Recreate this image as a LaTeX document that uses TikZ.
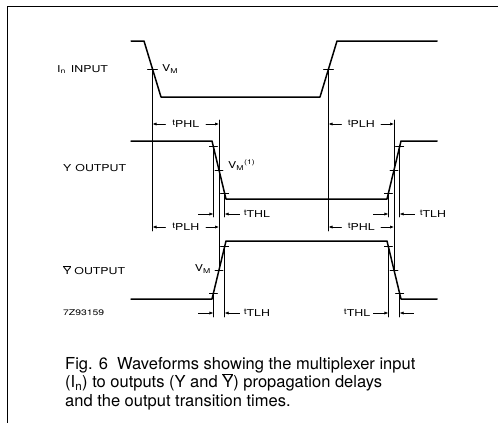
\documentclass[tikz,border=0pt]{standalone}
\usepackage{fontspec}
\setmainfont{TeX Gyre Heros}
\newfontfamily\widefont[FakeStretch=1.3]{TeX Gyre Heros}
\usepackage{tikz}
\usetikzlibrary{arrows.meta,calc,positioning}
\newcommand{\tsub}[1]{{\fontsize{8}{8}\selectfont t}\raisebox{-0.5ex}{#1}}
\tikzset{
  every picture/.append style={line cap=round,line join=round},
  wd frame/.style={line width=1pt},
  wd wave/.style={line width=1.5pt},
  wd guide/.style={line width=0.6pt},
  wd tick/.style={line width=0.8pt},
  wd dim/.style={line width=0.7pt,-{Latex[length=4pt,width=3.2pt]}},
  wd label/.style={font=\widefont\fontsize{9.5}{11}\selectfont,inner sep=0pt},
  wd time/.style={font=\widefont\fontsize{9.5}{11}\selectfont,inner sep=0pt},
  wd code/.style={font=\widefont\fontsize{8}{10}\selectfont,inner sep=0pt},
  wd caption/.style={font=\fontsize{16.5}{18.5}\selectfont,align=left,inner sep=0pt}
}
\begin{document}
\begin{tikzpicture}[x=1pt,y=-1pt]
\useasboundingbox (0,0) rectangle (498,423);
\draw[wd frame] (7,423) -- (7,6) -- (498,6);

% rows of the time marks
\coordinate (r1) at (0,124);
\coordinate (r2) at (0,214);
\coordinate (r3) at (0,227);
\coordinate (r4) at (0,313);

% waveforms
\draw[wd wave] (131,41) -- (144,41) -- coordinate[pos=.5] (inF) (161,97)
  -- (320,97) -- coordinate[pos=.5] (inR) (337,41) -- (437,41);
\draw[wd wave] (131,141) -- (212,141)
  -- coordinate[pos=.1] (yF1) coordinate[pos=.5] (yF2) coordinate[pos=.9] (yF3) (226,199)
  -- (387,199)
  -- coordinate[pos=.1] (yR1) coordinate[pos=.5] (yR2) coordinate[pos=.9] (yR3) (401,141)
  -- (437,141);
\draw[wd wave] (131,299) -- (212,299)
  -- coordinate[pos=.1] (nR1) coordinate[pos=.5] (nR2) coordinate[pos=.9] (nR3) (226,241)
  -- (387,241)
  -- coordinate[pos=.1] (nF1) coordinate[pos=.5] (nF2) coordinate[pos=.9] (nF3) (401,299)
  -- (437,299);
\foreach \p in {inF,inR}
  \draw[wd tick] (\p) +(-5,0) -- +(5,0);
\foreach \p in {yF1,yF2,yF3,yR1,yR2,yR3,nR1,nR2,nR3,nF1,nF2,nF3}
  \draw[wd tick] (\p) +(-4,0) -- +(4,0);

% guide lines
\foreach \p in {inF,inR}
  \draw[wd guide] (\p) -- ($(\p|-r3)+(0,4)$);
\draw[wd guide] ($(yF2|-r1)+(0,-4)$) -- (nR2);
\draw[wd guide] ($(yR2|-r1)+(0,-4)$) -- (nF2);
\foreach \p in {yF1,yF3,yR1,yR3}
  \draw[wd guide] (\p) -- ($(\p|-r2)+(0,3)$);
\foreach \p in {nR1,nR3,nF1,nF3}
  \draw[wd guide] (\p) -- ($(\p|-r4)+(0,4)$);

% propagation delays
\draw[wd dim] ($(inF|-r1)+(13,0)$) -- (inF|-r1);
\draw[wd dim] ($(yF2|-r1)-(13,0)$) -- (yF2|-r1);
\node[wd time] (tphlY) at ($(inF|-r1)!.5!(yF2|-r1)$) {\tsub{PHL}};
\draw[wd dim] ($(inR|-r1)+(13,0)$) -- (inR|-r1);
\draw[wd dim] ($(yR2|-r1)-(13,0)$) -- (yR2|-r1);
\node[wd time] (tplhY) at ($(inR|-r1)!.5!(yR2|-r1)$) {\tsub{PLH}};
\draw[wd dim] ($(inF|-r3)+(13,0)$) -- (inF|-r3);
\draw[wd dim] ($(nR2|-r3)-(13,0)$) -- (nR2|-r3);
\node[wd time] (tplhN) at ($(inF|-r3)!.5!(nR2|-r3)$) {\tsub{PLH}};
\draw[wd dim] ($(inR|-r3)+(13,0)$) -- (inR|-r3);
\draw[wd dim] ($(nF2|-r3)-(13,0)$) -- (nF2|-r3);
\node[wd time] (tphlN) at ($(inR|-r3)!.5!(nF2|-r3)$) {\tsub{PHL}};

% transition times
\draw[wd dim] ($(yF1|-r2)-(15,0)$) -- (yF1|-r2);
\draw[wd dim] ($(yF3|-r2)+(15,0)$) -- (yF3|-r2);
\node[wd time,anchor=west] (tthlY) at ($(yF3|-r2)+(19,0)$) {\tsub{THL}};
\draw[wd dim] ($(yR1|-r2)-(15,0)$) -- (yR1|-r2);
\draw[wd dim] ($(yR3|-r2)+(15,0)$) -- (yR3|-r2);
\node[wd time,anchor=west] (ttlhY) at ($(yR3|-r2)+(20,0)$) {\tsub{TLH}};
\draw[wd dim] ($(nR1|-r4)-(15,0)$) -- (nR1|-r4);
\draw[wd dim] ($(nR3|-r4)+(15,0)$) -- (nR3|-r4);
\node[wd time,anchor=west] (ttlhN) at ($(nR3|-r4)+(19,0)$) {\tsub{TLH}};
\draw[wd dim] ($(nF1|-r4)-(15,0)$) -- (nF1|-r4);
\draw[wd dim] ($(nF3|-r4)+(14,0)$) -- (nF3|-r4);
\node[wd time,anchor=east] (tthlN) at ($(nF1|-r4)-(18,0)$) {\tsub{THL}};

% levels
\node[wd label] (vmIn) at (170,69) {V\textsubscript{M}};
\node[wd label,anchor=west] (vmY) at (228,165) {V\textsubscript{M}\textsuperscript{(1)}};
\node[wd label,anchor=east] (vmN) at (211,269) {V\textsubscript{M}};

% signal names
\node[wd label,anchor=west] (inLab) at (57,70) {I\textsubscript{n}\hspace{5pt}INPUT};
\node[wd label,anchor=west] (yLab) at (63,168) {Y\hspace{4pt}OUTPUT};
\node[wd label,anchor=west] (nLab) at (63,270) {$\overline{\mbox{Y}}$\hspace{3pt}OUTPUT};
\node[wd code,anchor=west] (code) at (63,313) {7Z93159};

\node[wd caption,anchor=north west] (caption) at (65,357)
  {Fig. 6\ \ Waveforms showing the multiplexer input\\
   (I\textsubscript{n}) to outputs (Y and $\overline{\mbox{Y}}$) propagation delays\\
   and the output transition times.};
\end{tikzpicture}
\end{document}
